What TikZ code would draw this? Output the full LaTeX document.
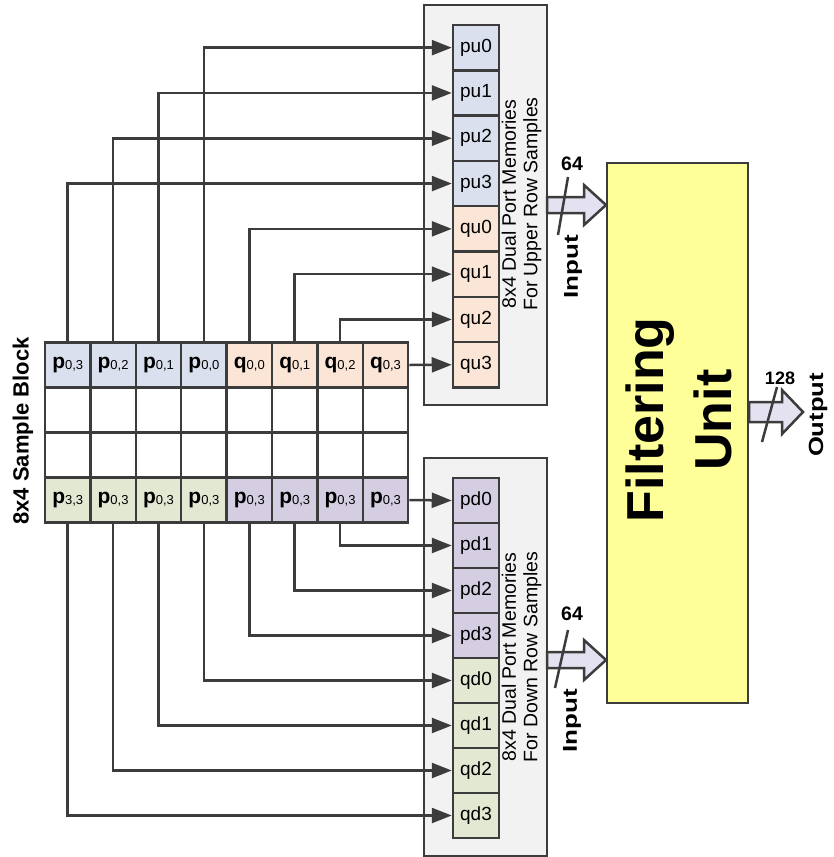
\documentclass[tikz,border=0pt]{standalone}
\usepackage{fontspec}
\setmainfont{Liberation Sans}
\usetikzlibrary{arrows.meta}
\definecolor{lineg}{HTML}{3C3C3C}
\definecolor{boxg}{HTML}{F2F2F2}
\definecolor{cblue}{HTML}{DAE0EE}
\definecolor{cpeach}{HTML}{FBE5D6}
\definecolor{cpurp}{HTML}{D5CDE1}
\definecolor{cgreen}{HTML}{E2E8D2}
\definecolor{fyel}{HTML}{FFFF99}
\definecolor{arrf}{HTML}{E4E2F0}
\newcommand\celllab[2]{{\fontsize{21}{21}\selectfont\bfseries #1}\raisebox{-1.5pt}{\fontsize{13}{13}\selectfont #2}}
\begin{document}
\begin{tikzpicture}[x=1pt,y=-1pt,
  cell/.style={draw=lineg,line width=2.5pt,minimum width=45.4pt,minimum height=45pt,inner sep=0pt},
  mem/.style={draw=lineg,line width=2.5pt,minimum width=46pt,minimum height=45.3pt,inner sep=0pt,font=\fontsize{19}{19}\selectfont},
  membox/.style={draw=lineg,line width=2.5pt,fill=boxg,minimum width=123pt,inner sep=0pt},
  conn/.style={draw=lineg,line width=2.5pt,-{Triangle[length=20pt,width=15pt]}},
  fat/.style={draw=lineg,line width=2.5pt,fill=arrf,line join=miter},
  slash/.style={draw=lineg,line width=2.5pt},
  lab/.style={font=\fontsize{19.5}{19.5}\selectfont\bfseries,inner sep=0pt},
  rlab/.style={rotate=90,font=\fontsize{22}{22}\selectfont\bfseries,inner sep=0pt},
  memtxt/.style={rotate=90,align=center,font=\fontsize{19.5}{21.5}\selectfont,inner sep=0pt}
]
\useasboundingbox (0,0) rectangle (833,857);
% memory boxes
\node[membox,minimum height=400pt] (ubox) at (485.5,205) {};
\node[membox,minimum height=398pt] (lbox) at (485.5,657) {};
\node[memtxt] (utxt) at (521.5,204) {8x4 Dual Port Memories\\For Upper Row Samples};
\node[memtxt] (ltxt) at (521.5,657) {8x4 Dual Port Memories\\For Down Row Samples};
% sample block grid
\foreach \a/\b/\c [count=\i from 0] in {p/{0,3}/cblue,p/{0,2}/cblue,p/{0,1}/cblue,p/{0,0}/cblue,q/{0,0}/cpeach,q/{0,1}/cpeach,q/{0,2}/cpeach,q/{0,3}/cpeach}
  \node[cell,fill=\c] (g0-\i) at ({67.7+45.4*\i},365) {\celllab{\a}{\b}};
\foreach \i in {0,...,7} {
  \node[cell,fill=white] (g1-\i) at ({67.7+45.4*\i},410) {};
  \node[cell,fill=white] (g2-\i) at ({67.7+45.4*\i},455) {};
}
\foreach \a/\b/\c [count=\i from 0] in {p/{3,3}/cgreen,p/{0,3}/cgreen,p/{0,3}/cgreen,p/{0,3}/cgreen,p/{0,3}/cpurp,p/{0,3}/cpurp,p/{0,3}/cpurp,p/{0,3}/cpurp}
  \node[cell,fill=\c] (g3-\i) at ({67.7+45.4*\i},500) {\celllab{\a}{\b}};
\node[rlab] (blk) at (23,431) {8x4 Sample Block};
% memory cells
\foreach \n/\c [count=\i from 0] in {pu0/cblue,pu1/cblue,pu2/cblue,pu3/cblue,qu0/cpeach,qu1/cpeach,qu2/cpeach,qu3/cpeach}
  \node[mem,fill=\c] (\n) at (476,{25+45.3*\i+22.65}) {\n};
\foreach \n/\c [count=\i from 0] in {pd0/cpurp,pd1/cpurp,pd2/cpurp,pd3/cpurp,qd0/cgreen,qd1/cgreen,qd2/cgreen,qd3/cgreen}
  \node[mem,fill=\c] (\n) at (476,{478+45*\i+22.5}) {\n};
% connectors upper
\draw[conn] (g0-0.north) |- (pu3.west);
\draw[conn] (g0-1.north) |- (pu2.west);
\draw[conn] (g0-2.north) |- (pu1.west);
\draw[conn] (g0-3.north) |- (pu0.west);
\draw[conn] (g0-4.north) |- (qu0.west);
\draw[conn] (g0-5.north) |- (qu1.west);
\draw[conn] (g0-6.north) |- (qu2.west);
\draw[conn] (g0-7.east) -- (qu3.west);
% connectors lower
\draw[conn] (g3-7.east) -- (pd0.west);
\draw[conn] (g3-6.south) |- (pd1.west);
\draw[conn] (g3-5.south) |- (pd2.west);
\draw[conn] (g3-4.south) |- (pd3.west);
\draw[conn] (g3-3.south) |- (qd0.west);
\draw[conn] (g3-2.south) |- (qd1.west);
\draw[conn] (g3-1.south) |- (qd2.west);
\draw[conn] (g3-0.south) |- (qd3.west);
% filtering unit
\node[draw=lineg,line width=2.5pt,fill=fyel,minimum width=141pt,minimum height=540pt,inner sep=0pt] (fu) at (677.5,433) {};
\node[rotate=90,align=center,font=\fontsize{52}{68}\selectfont\bfseries,inner sep=0pt] (futxt) at (679,420) {Filtering\\Unit};
% fat arrows
\draw[fat] (547,197) -- (584,197) -- (584,185) -- (606,205) -- (584,225) -- (584,213) -- (547,213) -- cycle;
\draw[fat] (547,652) -- (584,652) -- (584,640) -- (606,660) -- (584,680) -- (584,668) -- (547,668) -- cycle;
\draw[fat] (749,402) -- (782,402) -- (782,390) -- (803,412) -- (782,434) -- (782,422) -- (749,422) -- cycle;
% bus slashes
\draw[slash] (568,177) -- (558,235);
\draw[slash] (568,630) -- (555,688);
\draw[slash] (777,387) -- (762,442);
% labels
\node[lab] (w1) at (572,164) {64};
\node[lab] (w2) at (572,614) {64};
\node[lab,font=\fontsize{18}{18}\selectfont\bfseries] (w3) at (780,378) {128};
\node[rlab,font=\fontsize{20}{20}\selectfont\bfseries] (in1) at (573,267) {\scalebox{1.3}[1]{Input}};
\node[rlab,font=\fontsize{20}{20}\selectfont\bfseries] (in2) at (572,721) {\scalebox{1.3}[1]{Input}};
\node[rlab,font=\fontsize{20.5}{20.5}\selectfont\bfseries] (out) at (818,415) {\scalebox{1.25}[1]{Output}};
\end{tikzpicture}
\end{document}
